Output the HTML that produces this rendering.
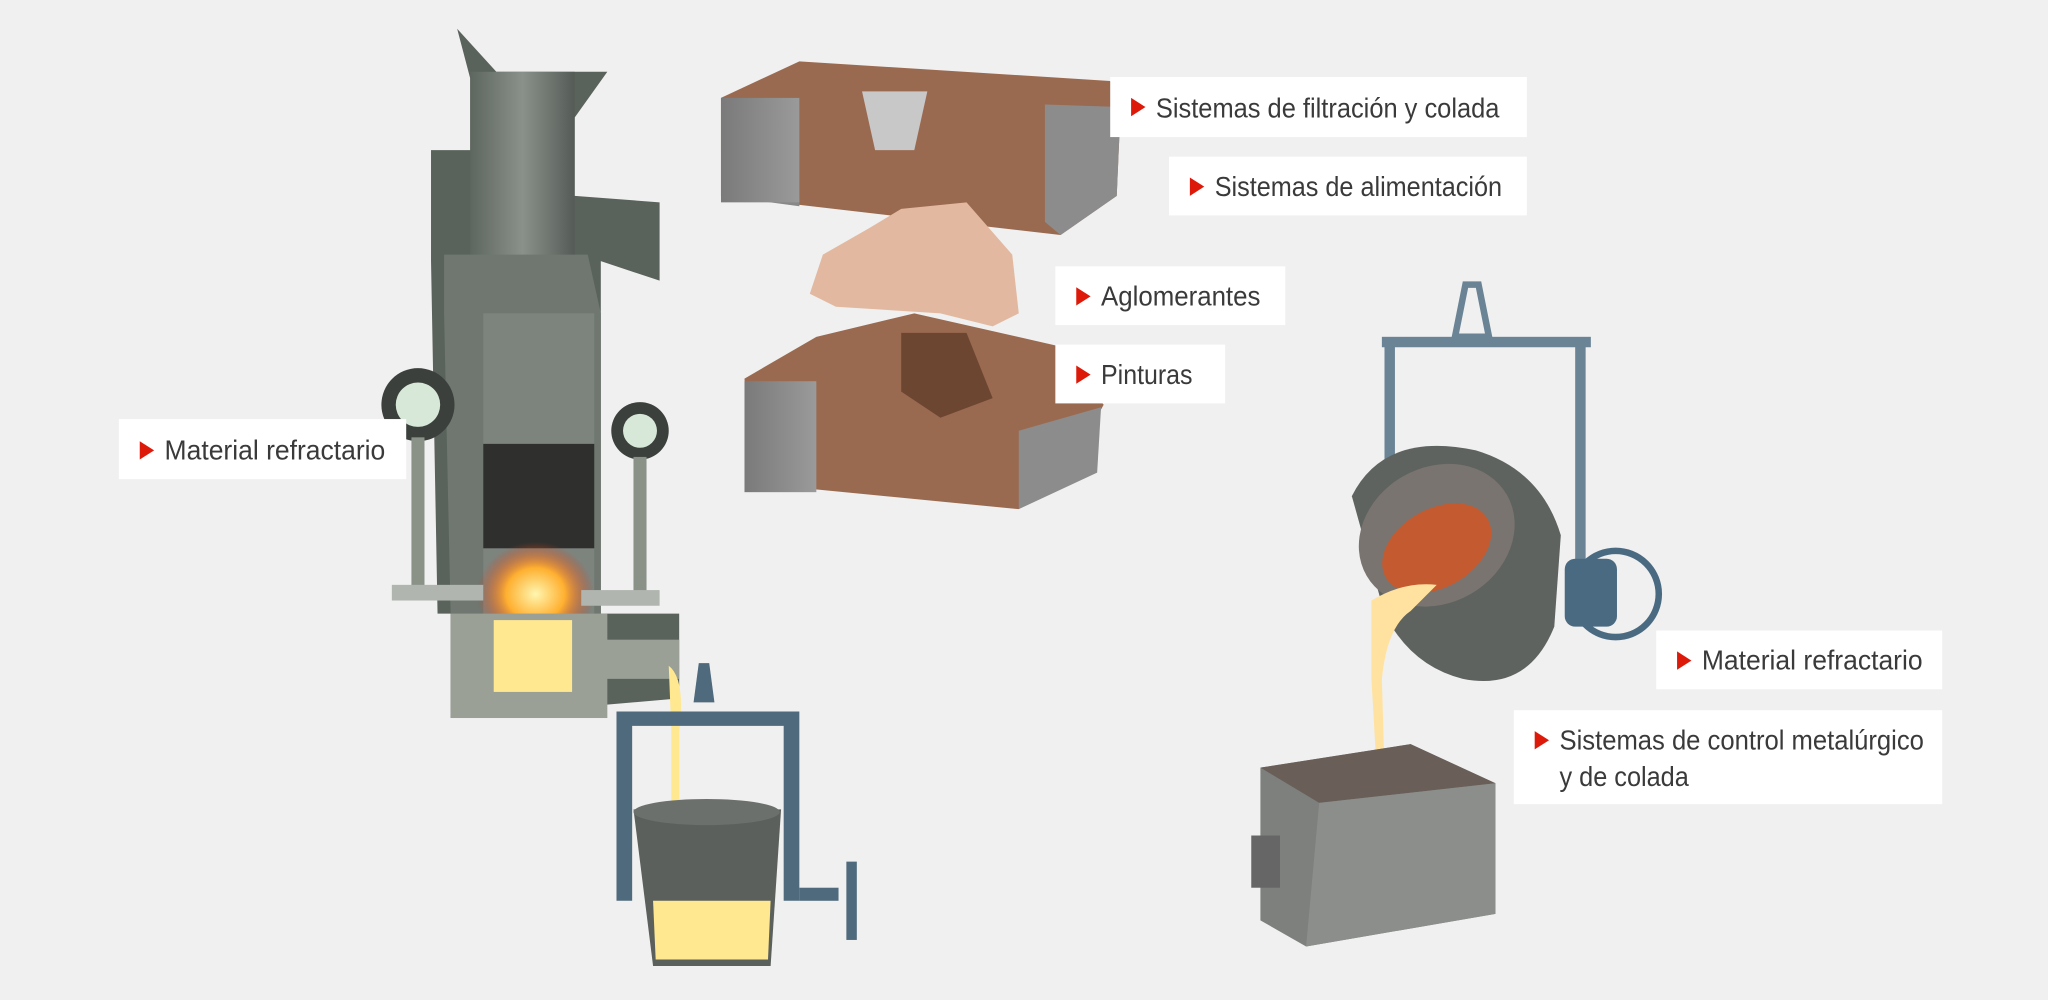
<!DOCTYPE html>
<html><head><meta charset="utf-8"><style>
html,body{margin:0;padding:0;background:#f0f0f0;}
svg{display:block}
text{font-family:"Liberation Sans",sans-serif;fill:#3a3a3a;font-size:21px}
</style></head><body>
<svg width="2048" height="1000" viewBox="0 0 1568 766" preserveAspectRatio="none" xmlns="http://www.w3.org/2000/svg">
<defs>
<linearGradient id="steel" x1="0" x2="1"><stop offset="0" stop-color="#5d665f"/><stop offset=".5" stop-color="#8a918a"/><stop offset="1" stop-color="#555c57"/></linearGradient>
<radialGradient id="fire" cx=".5" cy=".5" r=".5"><stop offset="0" stop-color="#fff6b0"/><stop offset=".5" stop-color="#ffb030"/><stop offset="1" stop-color="#e03010" stop-opacity="0"/></radialGradient>
<linearGradient id="box" x1="0" x2="1"><stop offset="0" stop-color="#7a7a7a"/><stop offset="1" stop-color="#9a9a9a"/></linearGradient>
</defs>
<rect width="1568" height="766" fill="#f0f0f0"/>

<!-- furnace -->
<path d="M350 22 L380 55 L450 55 L465 55 L440 90 L440 150 L505 155 L505 215 L460 200 L460 470 L520 470 L520 535 L345 550 L345 470 L335 470 L330 200 L330 115 L360 115 L360 60 Z" fill="#5a625c"/>
<rect x="360" y="55" width="80" height="160" fill="url(#steel)"/>
<path d="M340 195 L450 195 L460 240 L460 470 L345 470 L340 240 Z" fill="#6f7770"/>
<rect x="370" y="240" width="85" height="230" fill="#7d847e"/>
<rect x="370" y="340" width="85" height="80" fill="#2f302e"/>
<ellipse cx="410" cy="455" rx="45" ry="40" fill="url(#fire)"/>
<rect x="345" y="470" width="120" height="80" fill="#9aa095"/>
<rect x="378" y="475" width="60" height="55" fill="#ffe890"/>
<rect x="440" y="490" width="80" height="30" fill="#9aa095"/>
<circle cx="320" cy="310" r="28" fill="#3b403c"/><circle cx="320" cy="310" r="17" fill="#d8e8d8"/>
<circle cx="490" cy="330" r="22" fill="#3b403c"/><circle cx="490" cy="330" r="13" fill="#d8e8d8"/>
<rect x="315" y="335" width="10" height="120" fill="#8a9288"/>
<rect x="485" y="350" width="10" height="105" fill="#8a9288"/>
<rect x="300" y="448" width="70" height="12" fill="#b0b5b0"/>
<rect x="445" y="452" width="60" height="12" fill="#b0b5b0"/>
<!-- stream + left ladle -->
<path d="M512 510 Q525 520 520 560 L520 690 L514 690 L514 560 Z" fill="#ffe890"/>
<path d="M472 545 L612 545 L612 690 L600 690 L600 556 L484 556 L484 690 L472 690 Z" fill="#4f6a7c"/>
<path d="M535 508 l8 0 l4 30 l-16 0 z" fill="#4f6a7c"/>
<path d="M485 620 L598 620 L590 740 L500 740 Z" fill="#5b605c"/>
<path d="M500 690 L590 690 L588 735 L502 735 Z" fill="#ffe890"/>
<ellipse cx="541" cy="622" rx="56" ry="10" fill="#6b706c"/>
<rect x="612" y="680" width="30" height="10" fill="#4f6a7c"/><rect x="648" y="660" width="8" height="60" fill="#4f6a7c"/>

<!-- top mold -->
<path d="M552 75 L612 47 L850 62 L858 82 L855 150 L812 180 L552 150 Z" fill="#9a6a50"/>
<path d="M552 75 L612 150 L612 158 L552 150 Z" fill="#888"/>
<rect x="552" y="75" width="60" height="80" fill="url(#box)"/>
<path d="M800 80 L858 82 L855 150 L812 180 L800 170 Z" fill="#8c8c8c"/>
<path d="M660 70 L710 70 L700 115 L670 115 Z" fill="#c8c8c8"/>
<!-- core -->
<path d="M630 195 L665 175 L690 160 L740 155 L775 195 L780 240 L760 250 L720 240 L640 235 L620 225 Z" fill="#e2b9a0"/>
<!-- bottom mold -->
<path d="M570 290 L625 258 L700 240 L810 265 L845 310 L820 355 L780 390 L575 370 Z" fill="#9a6a50"/>
<rect x="570" y="292" width="55" height="85" fill="url(#box)"/>
<path d="M780 330 L843 312 L840 362 L780 390 Z" fill="#8c8c8c"/>
<path d="M690 255 L740 255 L760 305 L720 320 L690 300 Z" fill="#6d4632"/>

<!-- right ladle -->
<path d="M1122 218 l10 0 l8 40 l-26 0 z" fill="none" stroke="#6a8496" stroke-width="5"/>
<rect x="1058" y="258" width="160" height="8" fill="#6a8496"/>
<rect x="1060" y="264" width="8" height="120" fill="#6a8496"/>
<rect x="1206" y="264" width="8" height="170" fill="#6a8496"/>
<circle cx="1237" cy="455" r="33" fill="none" stroke="#4a6a82" stroke-width="5"/>
<rect x="1198" y="428" width="40" height="52" rx="8" fill="#4a6a82"/>
<path d="M1035 380 Q1060 330 1130 345 Q1180 360 1195 410 L1190 480 Q1170 530 1120 520 Q1080 510 1060 470 Z" fill="#5e6360"/>
<ellipse cx="1100" cy="410" rx="62" ry="52" fill="#7a7470" transform="rotate(-30 1100 410)"/>
<ellipse cx="1100" cy="420" rx="45" ry="30" fill="#c45a30" transform="rotate(-30 1100 420)"/>
<path d="M1050 460 Q1075 445 1100 448 L1080 468 Q1062 480 1058 520 L1060 590 L1054 590 L1050 520 Z" fill="#ffe2a0"/>
<circle cx="1060" cy="594" r="9" fill="#ffd070"/>
<!-- box -->
<path d="M965 588 L1080 570 L1145 600 L1145 700 L1000 725 L965 705 Z" fill="#7e807e"/>
<path d="M965 588 L1080 570 L1145 600 L1010 615 Z" fill="#6a5e58"/>
<path d="M1010 615 L1145 600 L1145 700 L1000 725 Z" fill="#8c8e8c"/>
<rect x="958" y="640" width="22" height="40" fill="#666"/>

<!-- labels -->
<g>
<rect x="850" y="59" width="319" height="46" fill="#fff"/>
<path d="M866 75 l11 7 l-11 7 z" fill="#dd1a0a"/>
<text x="885" y="90" textLength="263" lengthAdjust="spacingAndGlyphs">Sistemas de filtración y colada</text>
<rect x="895" y="120" width="274" height="45" fill="#fff"/>
<path d="M911 136 l11 7 l-11 7 z" fill="#dd1a0a"/>
<text x="930" y="150" textLength="220" lengthAdjust="spacingAndGlyphs">Sistemas de alimentación</text>
<rect x="808" y="204" width="176" height="45" fill="#fff"/>
<path d="M824 220 l11 7 l-11 7 z" fill="#dd1a0a"/>
<text x="843" y="234" textLength="122" lengthAdjust="spacingAndGlyphs">Aglomerantes</text>
<rect x="808" y="264" width="130" height="45" fill="#fff"/>
<path d="M824 280 l11 7 l-11 7 z" fill="#dd1a0a"/>
<text x="843" y="294" textLength="70" lengthAdjust="spacingAndGlyphs">Pinturas</text>
<rect x="91" y="321" width="220" height="46" fill="#fff"/>
<path d="M107 338 l11 7 l-11 7 z" fill="#dd1a0a"/>
<text x="126" y="352" textLength="169" lengthAdjust="spacingAndGlyphs">Material refractario</text>
<rect x="1268" y="483" width="219" height="45" fill="#fff"/>
<path d="M1284 499 l11 7 l-11 7 z" fill="#dd1a0a"/>
<text x="1303" y="513" textLength="169" lengthAdjust="spacingAndGlyphs">Material refractario</text>
<rect x="1159" y="544" width="328" height="72" fill="#fff"/>
<path d="M1175 560 l11 7 l-11 7 z" fill="#dd1a0a"/>
<text x="1194" y="574" textLength="279" lengthAdjust="spacingAndGlyphs">Sistemas de control metalúrgico</text>
<text x="1194" y="602" textLength="99" lengthAdjust="spacingAndGlyphs">y de colada</text>
</g>
</svg>
</body></html>
